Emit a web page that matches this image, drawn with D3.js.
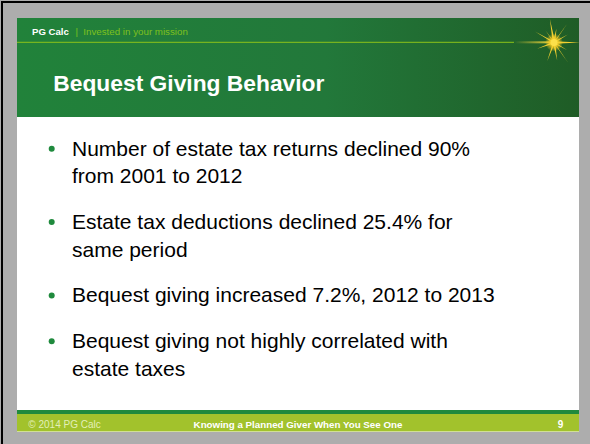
<!DOCTYPE html>
<html><head><meta charset="utf-8">
<script src="https://cdn.jsdelivr.net/npm/d3@7"></script>
<style>html,body{margin:0;padding:0;background:#adadad;}svg{display:block;}</style>
</head><body>
<script>
const brand = "PG Calc";
const tagline = "Invested in your mission";
const title = "Bequest Giving Behavior";
const bullets = [
  ["Number of estate tax returns declined 90%", "from 2001 to 2012"],
  ["Estate tax deductions declined 25.4% for", "same period"],
  ["Bequest giving increased 7.2%, 2012 to 2013"],
  ["Bequest giving not highly correlated with", "estate taxes"]
];
const footerLeft = "© 2014 PG Calc";
const footerCenter = "Knowing a Planned Giver When You See One";
const pageNumber = "9";
const starRays = [[0,26],[30,16],[55,22],[80,14],[100,24],[125,15],[150,22],[200,18],[225,14],[250,20],[280,18],[305,24],[330,15]];

const W = 590, H = 444;
const FONT = "Liberation Sans, Arial, sans-serif";
const svg = d3.select("body").append("svg").attr("width", W).attr("height", H);
const defs = svg.append("defs");
const hg = defs.append("linearGradient").attr("id","hdr").attr("x1","0").attr("x2","1");
hg.append("stop").attr("offset","0").attr("stop-color","#21823a");
hg.append("stop").attr("offset","0.55").attr("stop-color","#22783a");
hg.append("stop").attr("offset","1").attr("stop-color","#1f5c26");
const rg = defs.append("linearGradient").attr("id","ray").attr("x1","0").attr("x2","1");
rg.append("stop").attr("offset","0").attr("stop-color","#f7d83a").attr("stop-opacity",0);
rg.append("stop").attr("offset","1").attr("stop-color","#f7d83a").attr("stop-opacity",1);
const glow = defs.append("radialGradient").attr("id","glow");
glow.append("stop").attr("offset","0").attr("stop-color","#ffe040").attr("stop-opacity",1);
glow.append("stop").attr("offset","0.5").attr("stop-color","#f5c820").attr("stop-opacity",0.8);
glow.append("stop").attr("offset","1").attr("stop-color","#f5c820").attr("stop-opacity",0);

// background and border
svg.append("rect").attr("width",W).attr("height",H).attr("fill","#adadad");
svg.append("rect").attr("x",1).attr("y",1).attr("width",W-1).attr("height",2).attr("fill","#000");
svg.append("rect").attr("x",1).attr("y",1).attr("width",2).attr("height",H-1).attr("fill","#000");

const sx = 17, sw = 562;
// slide body
svg.append("rect").attr("x",sx).attr("y",18).attr("width",sw).attr("height",414).attr("fill","#ffffff");
// header
svg.append("rect").attr("x",sx).attr("y",18).attr("width",sw).attr("height",99).attr("fill","url(#hdr)");
svg.append("text").attr("x",32).attr("y",34.6).attr("font-family",FONT)
  .attr("font-size",9.6).attr("font-weight","bold").attr("fill","#ffffff").text(brand);
svg.append("text").attr("x",75.5).attr("y",34.6).attr("font-family",FONT)
  .attr("font-size",9.6).attr("fill","#7fc01e").text("|");
svg.append("text").attr("x",83.3).attr("y",34.6).attr("font-family",FONT)
  .attr("font-size",9.75).attr("fill","#7fc01e").text(tagline);
svg.append("rect").attr("x",sx).attr("y",41.8).attr("width",497).attr("height",1).attr("fill","#8cc21a");
svg.append("rect").attr("x",514).attr("y",41.3).attr("width",40).attr("height",2).attr("fill","url(#ray)");

// star
const cx = 554, cy = 42.5;
const star = svg.append("g").attr("transform",`translate(${cx},${cy})`);
star.append("circle").attr("r",9).attr("fill","url(#glow)");
starRays.forEach(([a,len]) => {
  const r = a*Math.PI/180, w = 1.3;
  const px = -Math.sin(r)*w, py = Math.cos(r)*w;
  const ex = Math.cos(r)*len, ey = -Math.sin(r)*len;
  star.append("path").attr("d",`M${px},${py}L${ex},${ey}L${-px},${-py}Z`).attr("fill","#f3d030");
});
star.append("circle").attr("r",3.5).attr("fill","#fbe04a");

svg.append("text").attr("x",53.3).attr("y",90.7).attr("font-family",FONT)
  .attr("font-size",22.8).attr("font-weight","bold").attr("fill","#ffffff").text(title);

// bullets
const lineGap = 27.5, paraGap = 45.8;
let y = 155.8;
bullets.forEach(lines => {
  svg.append("circle").attr("cx",51.7).attr("cy",y-7).attr("r",3).attr("fill","#1f8a3d");
  lines.forEach((ln,i) => {
    svg.append("text").attr("x",72).attr("y",y + i*lineGap).attr("font-family",FONT)
      .attr("font-size",21).attr("fill","#000").text(ln);
  });
  y += (lines.length-1)*lineGap + paraGap;
});

// footer
svg.append("rect").attr("x",sx).attr("y",410).attr("width",sw).attr("height",4).attr("fill","#1f8a3d");
svg.append("rect").attr("x",sx).attr("y",414).attr("width",sw).attr("height",17.5).attr("fill","#a2c22c");
svg.append("text").attr("x",28.3).attr("y",427.7).attr("font-family",FONT)
  .attr("font-size",10).attr("fill","#e3efb8").text(footerLeft);
svg.append("text").attr("x",298).attr("y",427.7).attr("text-anchor","middle").attr("font-family",FONT)
  .attr("font-size",9.75).attr("font-weight","bold").attr("fill","#ffffff").text(footerCenter);
svg.append("text").attr("x",560.5).attr("y",427.7).attr("text-anchor","middle").attr("font-family",FONT)
  .attr("font-size",10).attr("font-weight","bold").attr("fill","#ffffff").text(pageNumber);
</script>
</body></html>
